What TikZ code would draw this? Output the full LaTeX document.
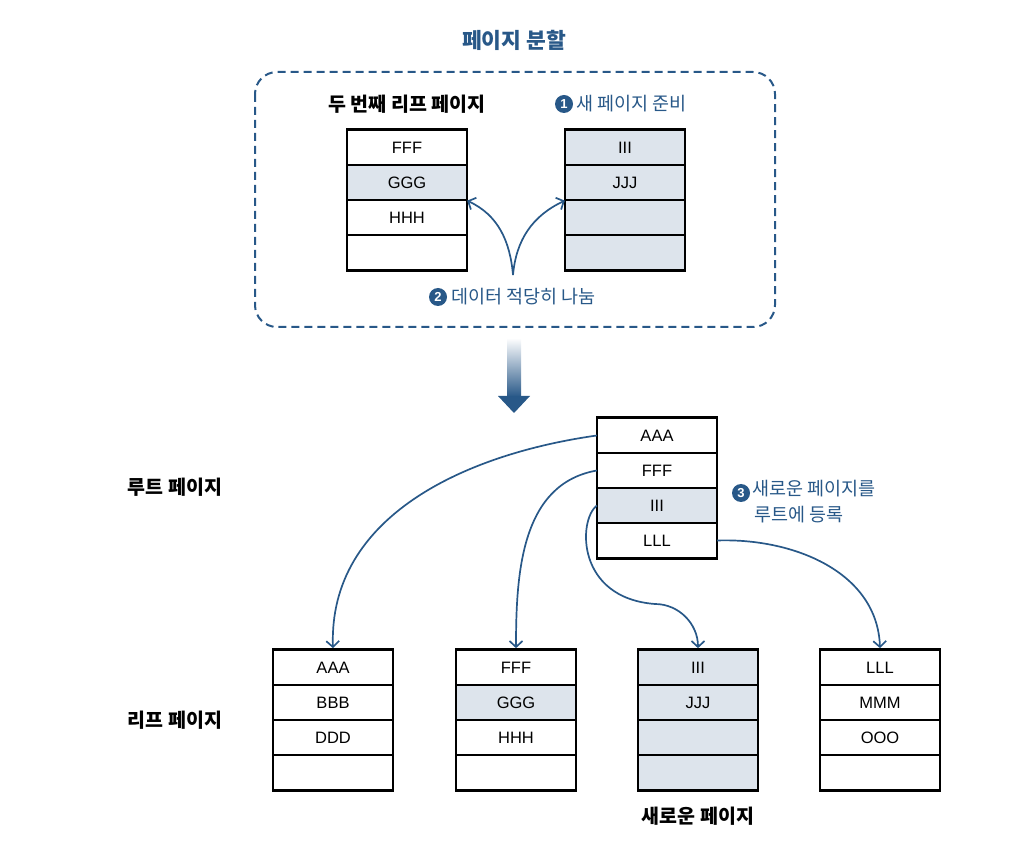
\documentclass[tikz,border=0pt]{standalone}
\usepackage{fontspec}
\setmainfont{Liberation Sans}
\newfontfamily\kr{Noto Sans CJK KR}
\usetikzlibrary{arrows.meta,fit}
\definecolor{bblue}{RGB}{40,88,136}
\definecolor{cellshade}{RGB}{221,228,236}
\tikzset{
 cell/.style={draw=black, line width=1.3pt, minimum width=119pt, minimum height=35pt, inner sep=0pt, font=\fontsize{16.5}{16.5}\selectfont},
 shcell/.style={cell, fill=cellshade},
 frame/.style={draw=black, line width=2.4pt, inner sep=0pt},
 conn/.style={draw=bblue, line width=1.7pt, -{Straight Barb[length=6pt,width=13pt,line width=1.7pt]}},
 num/.style={circle, fill=bblue, text=white, inner sep=0pt, minimum size=18pt, font=\fontsize{13}{13}\selectfont\bfseries},
 blab/.style={text=bblue, font=\kr\fontsize{18.5}{26}\selectfont, inner sep=0pt},
 klab/.style={font=\kr\bfseries\fontsize{19.5}{22}\selectfont, inner sep=0pt},
}
\newcommand\drawpage[4]{%
  \foreach \lab/\sty [count=\i] in {#4}
    \node[\sty] (#1-\i) at ({#2},{#3+35*\i-17.5}) {\lab};
  \node[frame, fit=(#1-1)(#1-4)] (#1) {};
}
\begin{document}
\begin{tikzpicture}[x=1pt,y=-1pt]
\useasboundingbox (0,0) rectangle (1034,858);
% title
\node[text=bblue, font=\kr\bfseries\fontsize{21.5}{24}\selectfont] (title) at (514,40) {페이지 분할};
% dashed region
\draw[bblue, line width=2pt, dash pattern=on 8pt off 5pt, rounded corners=22pt] (255,72) rectangle (775,327);
% top pages
\node[klab] (lbl2nd) at (407,104) {두 번째 리프 페이지};
\drawpage{P}{407}{130}{FFF/cell,GGG/shcell,HHH/cell,/cell}
\node[num] (n1) at (564,104) {1};
\node[blab, anchor=west] (t1) at (576,104) {새 페이지 준비};
\drawpage{N}{625}{130}{III/shcell,JJJ/shcell,/shcell,/shcell}
% split arrows
\coordinate (split) at (513,275);
\draw[conn] (split) to[out=95,in=-25] (P-2.south east);
\draw[conn] (split) to[out=85,in=205] (N-2.south west);
\node[num] (n2) at (438,297) {2};
\node[blab, anchor=west] (t2) at (451,297) {데이터 적당히 나눔};
% big gradient arrow
\shade[top color=white, bottom color=bblue, draw=none] (507,338) rectangle (521,397);
\fill[bblue] (498,396) -- (530,396) -- (514,413) -- cycle;
% root page
\drawpage{R}{657}{418}{AAA/cell,FFF/cell,III/shcell,LLL/cell}
\node[num] (n3) at (741,493) {3};
\node[blab, anchor=north west, align=left] (t3) at (752,480) {새로운 페이지를\\\hspace*{2pt}루트에 등록};
\node[klab] (lroot) at (175,487) {루트 페이지};
\node[klab] (lleaf) at (175,720) {리프 페이지};
% leaf pages
\drawpage{A}{333}{650}{AAA/cell,BBB/cell,DDD/cell,/cell}
\drawpage{B}{516}{650}{FFF/cell,GGG/shcell,HHH/cell,/cell}
\drawpage{C}{698}{650}{III/shcell,JJJ/shcell,/shcell,/shcell}
\drawpage{D}{880}{650}{LLL/cell,MMM/cell,OOO/cell,/cell}
\node[klab] (lnew) at (698,816) {새로운 페이지};
% root connectors
\draw[conn] (R-1.west) to[out=188,in=92] (A.north);
\draw[conn] (R-2.west) to[out=190,in=90] (B.north);
\draw[conn] (R-3.west) .. controls (578,520) and (576,598) .. (655,604) to[out=0,in=90] (C.north);
\draw[conn] (R-4.east) to[out=2,in=92] (D.north);
\end{tikzpicture}
\end{document}
